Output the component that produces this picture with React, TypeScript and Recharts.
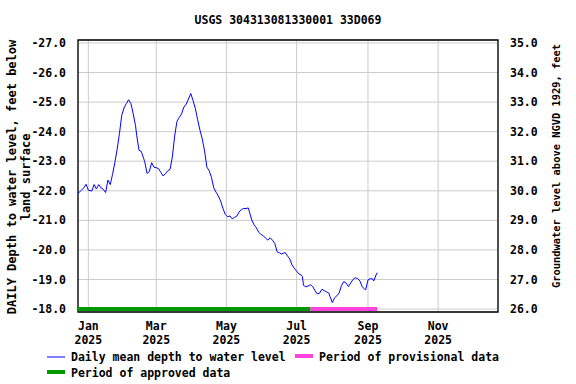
import React from 'react';
import { LineChart, Line, XAxis, YAxis, CartesianGrid, ReferenceArea } from 'recharts';

// Days since 2025-01-01
const dayOffsets = [
  -9, -6, -4, -2, 0, 3, 5, 7, 9, 11, 13, 15, 17, 19, 21, 23, 25, 27, 29, 31, 33, 35, 37, 39, 41, 42, 44, 46, 48, 49,
  51, 53, 55, 57, 59, 61, 63, 65, 67, 69, 71, 73, 75, 77, 79, 81, 83, 85, 87, 89, 91, 93, 95, 97, 99, 101, 103, 105, 107, 109,
  111, 113, 115, 117, 119, 121, 123, 125, 127, 129, 131, 133, 135, 137, 139, 141, 142, 144, 146, 148, 150, 152, 154, 156, 158, 160,
  162, 164, 166, 168, 170, 171, 173, 175, 177, 179, 181, 183, 185, 186, 187, 189, 191, 193, 195, 197, 199, 201, 203, 205, 207, 209,
  210, 212, 214, 216, 218, 220, 222, 224, 226, 228, 230, 232, 234, 236, 238, 240, 241, 243, 245, 247, 248, 250, 251,
];
// Daily mean depth to water level, feet below land surface (plotted negative)
const depthValues = [
  -21.91, -22.02, -22.1, -22.22, -22.02, -21.99, -22.21, -22.06, -22.21, -22.1, -22.05, -21.94, -22.36, -22.21, -22.55, -22.95, -23.4, -23.93, -24.55, -24.8, -24.95, -25.08, -24.95, -24.6, -24.2, -23.88, -23.37, -23.33, -23.1, -22.98,
  -22.59, -22.65, -22.95, -22.8, -22.78, -22.75, -22.62, -22.5, -22.58, -22.68, -22.72, -23.15, -23.85, -24.35, -24.48, -24.6, -24.83, -24.93, -25.1, -25.29, -25.05, -24.78, -24.4, -24.05, -23.75, -23.35, -22.8, -22.68, -22.45, -22.1,
  -21.95, -21.82, -21.65, -21.4, -21.2, -21.12, -21.15, -21.05, -21.1, -21.14, -21.28, -21.37, -21.4, -21.4, -21.42, -21.15, -21.01, -20.85, -20.75, -20.6, -20.52, -20.48, -20.4, -20.33, -20.41, -20.33,
  -20.22, -19.94, -19.9, -19.86, -19.9, -19.91, -19.8, -19.7, -19.49, -19.38, -19.28, -19.19, -19.15, -19.1, -18.8, -18.75, -18.78, -18.82, -18.76, -18.62, -18.51, -18.54, -18.67, -18.62, -18.58, -18.54,
  -18.42, -18.22, -18.38, -18.45, -18.55, -18.8, -18.93, -18.88, -18.76, -18.88, -19.0, -19.06, -19.03, -18.95, -18.75, -18.68, -18.65, -18.98, -19.03, -19.02, -18.95, -19.15, -19.23,
];

const monthTicks = [0, 59, 120, 181, 243, 304];
const monthLabels = ['Jan', 'Mar', 'May', 'Jul', 'Sep', 'Nov'];
const yearLabel = '2025';
const depthTicks = [-27, -26, -25, -24, -23, -22, -21, -20, -19, -18];
const elevationTicks = [26, 27, 28, 29, 30, 31, 32, 33, 34, 35];
const approvedPeriod = [-9, 193];
const provisionalPeriod = [193, 251];
const periodBarLevel = -18;

const xDomain: [number, number] = [-9, 356];
const depthDomain: [number, number] = [-27.1, -17.9];
const elevationDomain: [number, number] = [25.9, 35.1];

const FONT = '"DejaVu Sans Mono", monospace';

const lineData = dayOffsets.map((d, i) => ({ day: d, depth: depthValues[i] }));
const approvedData = approvedPeriod.map((d) => ({ day: d, bar: periodBarLevel }));
const provisionalData = provisionalPeriod.map((d) => ({ day: d, bar: periodBarLevel }));

const MonthTick = (props: any) => {
  const { x, payload } = props;
  const idx = monthTicks.indexOf(payload.value);
  return (
    <text x={x} y={312} textAnchor="middle" fontFamily={FONT} fontWeight="bold" fontSize={11.5} fill="#000">
      <tspan x={x} dy={18}>{monthLabels[idx]}</tspan>
      <tspan x={x} dy={14}>{yearLabel}</tspan>
    </text>
  );
};

const tickStyle = { fontFamily: FONT, fontWeight: 'bold' as const, fontSize: 11.5, fill: '#000' };

export default function App() {
  return (
    <div style={{ position: 'absolute', left: 0, top: 0, width: 576, height: 384, background: '#fff' }}>
      <LineChart
        width={576}
        height={384}
        margin={{ top: 40, right: 0, bottom: 0, left: 0 }}
        data={lineData}
      >
        <CartesianGrid yAxisId="left" stroke="#cccccc" strokeWidth={1} />
        <XAxis
          dataKey="day"
          type="number"
          domain={xDomain}
          ticks={monthTicks}
          height={72}
          tickLine={false}
          axisLine={false}
          tick={<MonthTick />}
          allowDataOverflow
          interval={0}
        />
        <YAxis
          yAxisId="left"
          orientation="left"
          width={78}
          domain={depthDomain}
          reversed
          ticks={depthTicks}
          tickFormatter={(v: number) => v.toFixed(1)}
          tickLine={false}
          axisLine={false}
          tickMargin={6}
          tick={tickStyle}
          allowDataOverflow
          interval={0}
        />
        <YAxis
          yAxisId="right"
          orientation="right"
          width={78}
          domain={elevationDomain}
          ticks={elevationTicks}
          tickFormatter={(v: number) => v.toFixed(1)}
          tickLine={false}
          axisLine={false}
          tickMargin={6}
          tick={tickStyle}
          allowDataOverflow
          interval={0}
        />
        <Line
          yAxisId="left"
          dataKey="depth"
          stroke="#0000ff"
          strokeWidth={1}
          dot={false}
          isAnimationActive={false}
          type="linear"
        />
        <Line
          yAxisId="left"
          data={approvedData}
          dataKey="bar"
          stroke="#009900"
          strokeWidth={4}
          dot={false}
          isAnimationActive={false}
          type="linear"
        />
        <Line
          yAxisId="left"
          data={provisionalData}
          dataKey="bar"
          stroke="#ff44dd"
          strokeWidth={4}
          dot={false}
          isAnimationActive={false}
          type="linear"
        />
        <ReferenceArea
          yAxisId="left"
          x1={xDomain[0]}
          x2={xDomain[1]}
          y1={depthDomain[0]}
          y2={depthDomain[1]}
          fill="none"
          stroke="#000"
          strokeWidth={1.3}
          ifOverflow="visible"
        />
      </LineChart>
      <svg
        width={576}
        height={384}
        style={{ position: 'absolute', left: 0, top: 0, pointerEvents: 'none' }}
        fontFamily={FONT}
        fontWeight="bold"
      >
        <text x={288} y={24} textAnchor="middle" fontSize={11.5} fill="#000">
          USGS 304313081330001 33D069
        </text>
        <text transform="translate(16,177) rotate(-90)" textAnchor="middle" fontSize={12} fill="#000">
          DAILY Depth to water level, feet below
        </text>
        <text transform="translate(30,177) rotate(-90)" textAnchor="middle" fontSize={12} fill="#000">
          land surface
        </text>
        <text transform="translate(560,166) rotate(-90)" textAnchor="middle" fontSize={10.4} fill="#000">
          Groundwater level above NGVD 1929, feet
        </text>
        <line x1={47} y1={357} x2={65} y2={357} stroke="#0000ff" strokeWidth={1} />
        <text x={71} y={361} fontSize={11.5} fill="#000">Daily mean depth to water level</text>
        <line x1={295} y1={356} x2={313} y2={356} stroke="#ff44dd" strokeWidth={4} />
        <text x={319} y={361} fontSize={11.5} fill="#000">Period of provisional data</text>
        <line x1={47} y1={372} x2={65} y2={372} stroke="#009900" strokeWidth={4} />
        <text x={71} y={377} fontSize={11.5} fill="#000">Period of approved data</text>
      </svg>
    </div>
  );
}
